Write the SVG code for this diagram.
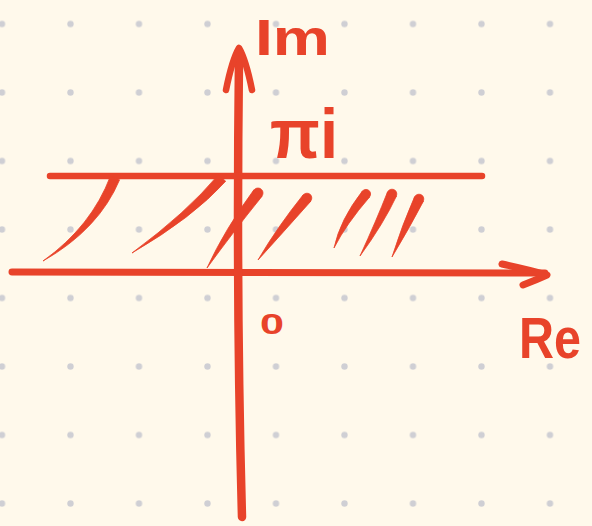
<svg xmlns="http://www.w3.org/2000/svg" width="592" height="526" viewBox="0 0 592 526">
<defs>
<pattern id="dots" patternUnits="userSpaceOnUse" x="-32.25" y="-10.25" width="68.5" height="68.5">
<circle cx="34.25" cy="34.25" r="3.2" fill="#CFCFD4"/>
</pattern>
<style>
.ln{fill:none;stroke:#E8432A;stroke-linecap:round;stroke-linejoin:round}
.h{fill:#E8432A;stroke:#E8432A;stroke-width:0.8;stroke-linejoin:round}
.t{fill:#E8432A;font-family:"Liberation Sans",Arial,sans-serif;font-weight:bold}
</style>
</defs>
<rect width="592" height="526" fill="#FFF9EB"/>
<rect width="592" height="526" fill="url(#dots)"/>
<g id="axes">
<path class="ln" stroke-width="7" d="M12,272 L545,273"/>
<path class="ln" stroke-width="7" d="M502,264 Q530,270 547,275 Q536,280 523,285"/>
<path class="ln" stroke-width="8.5" d="M239,58 Q236,300 242,517"/>
<path class="ln" stroke-width="6.5" d="M226,90 Q232,60 239,48 Q246,60 252,90"/>
<path class="ln" stroke-width="6.5" d="M50,176 L482,176"/>
</g>
<g id="hatching">
<path class="h" d="M110.4,176.2 Q91.3,226.5 43,261 Q98.7,229.5 119.6,179.8 Z"/>
<path class="h" d="M218.3,174.8 Q187,212.4 132,253 Q193,217.6 225.7,181.2 Z"/>
<path class="h" d="M253.9,189.8 Q224.7,229.5 207,268 Q231.3,234.5 262.1,196.2 Z"/>
<circle class="h" cx="258" cy="193" r="5"/>
<path class="h" d="M303.2,194.8 Q277,227.5 258,260 Q283,232.5 310.8,201.2 Z"/>
<circle class="h" cx="307" cy="198" r="4.8"/>
<path class="h" d="M362.4,191 Q340.1,219.6 334,248 Q345.9,224.4 369.6,197 Z"/>
<circle class="h" cx="366" cy="194" r="4.6"/>
<path class="h" d="M387.5,192 Q376.4,220.4 360,256 Q383.6,223.6 396.5,196 Z"/>
<circle class="h" cx="392" cy="194" r="4.8"/>
<path class="h" d="M414.55,196.85 Q402.4,224.3 392,257 Q409.6,227.7 423.45,201.15 Z"/>
<circle class="h" cx="419" cy="199" r="4.8"/>
</g>
<g id="labels">
<text class="t" x="255" y="55" font-size="50" textLength="75" lengthAdjust="spacingAndGlyphs">Im</text>
<text class="t" x="270" y="158" font-size="70" textLength="68" lengthAdjust="spacingAndGlyphs">πi</text>
<text class="t" x="260" y="334" font-size="30" textLength="24" lengthAdjust="spacingAndGlyphs">0</text>
<text class="t" x="519" y="358" font-size="58" textLength="62" lengthAdjust="spacingAndGlyphs">Re</text>
</g>
</svg>
